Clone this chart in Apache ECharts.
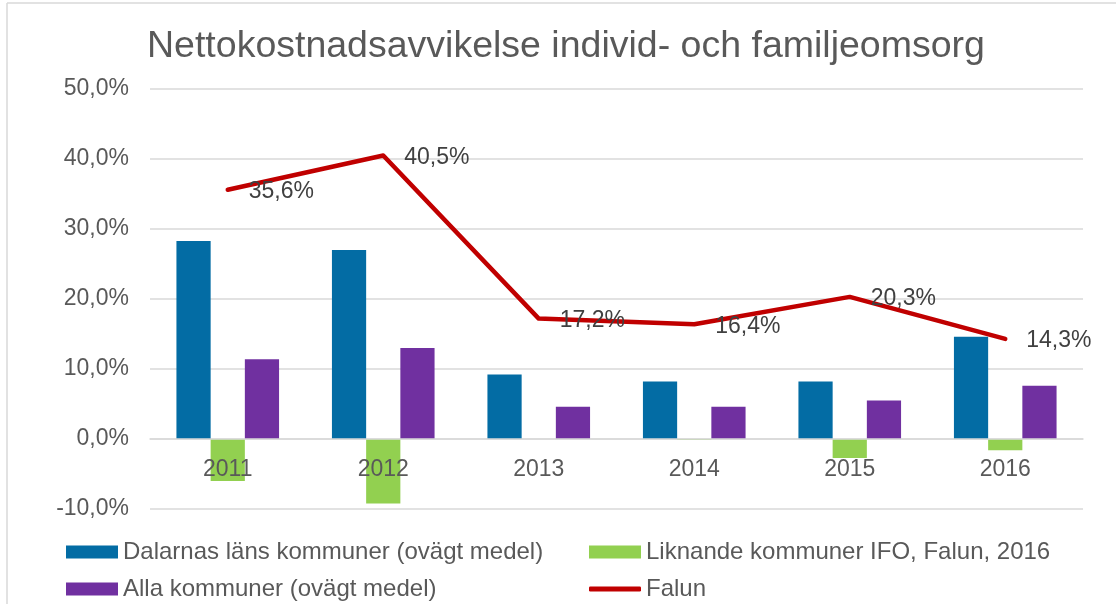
<!DOCTYPE html>
<html>
<head>
<meta charset="utf-8">
<script src="https://cdn.jsdelivr.net/npm/echarts@6/dist/echarts.min.js"></script>
<style>
  html, body { margin: 0; padding: 0; background: #fff; }
  #chart { width: 1116px; height: 604px; }
</style>
</head>
<body>
<div id="chart"></div>
<script>
// data (percent)
var years = ['2011', '2012', '2013', '2014', '2015', '2016'];
var dalarnas = [28.3, 27.0, 9.2, 8.2, 8.2, 14.6];
var liknande = [-6.0, -9.2, 0, -0.1, -2.7, -1.6];
var alla = [11.4, 13.0, 4.6, 4.6, 5.5, 7.6];
var falun = [35.6, 40.5, 17.2, 16.4, 20.3, 14.3];

var seriesNames = [
    'Dalarnas läns kommuner (ovägt medel)',
    'Liknande kommuner IFO, Falun, 2016',
    'Alla kommuner (ovägt medel)',
    'Falun'
];

var font = 'Liberation Sans, Arial, sans-serif';
var pct = function (v) {
    return Number(v).toFixed(1).replace('.', ',') + '%';
};

// one legend per item so the 2x2 layout is kept
function legendItem(name, left, top, extra) {
    var l = {
        left: left,
        top: top,
        padding: 0,
        itemWidth: 52,
        itemHeight: 13,
        icon: 'rect',
        data: [name],
        textStyle: { fontSize: 24, lineHeight: 24, color: '#595959', fontFamily: font }
    };
    for (var k in extra) l[k] = extra[k];
    return l;
}

var chart = echarts.init(document.getElementById('chart'));

var option = {
    animation: false,
    textStyle: { fontFamily: font },
    title: {
        text: 'Nettokostnadsavvikelse individ- och familjeomsorg',
        left: 142,
        top: 23,
        textStyle: { fontSize: 37.5, fontWeight: 'normal', color: '#595959', fontFamily: font }
    },
    grid: { left: 150, right: 33, top: 89, bottom: 95 },
    legend: [
        legendItem(seriesNames[0], 66, 540),
        legendItem(seriesNames[2], 66, 577),
        legendItem(seriesNames[1], 589, 540),
        legendItem(seriesNames[3], 589, 577, { icon: 'roundRect', itemHeight: 5 })
    ],
    xAxis: {
        type: 'category',
        data: years,
        offset: -70,
        z: 10,
        axisLine: { onZero: false, lineStyle: { color: '#d9d9d9', width: 1.5 } },
        axisTick: { show: false },
        axisLabel: { fontSize: 23, color: '#595959', margin: 19, fontFamily: font }
    },
    yAxis: {
        type: 'value',
        min: -10,
        max: 50,
        interval: 10,
        axisLine: { show: false },
        axisTick: { show: false },
        splitLine: { lineStyle: { color: '#d9d9d9', width: 1.5 } },
        axisLabel: { fontSize: 23, color: '#595959', margin: 21, formatter: pct, fontFamily: font }
    },
    series: [
        {
            name: seriesNames[0],
            type: 'bar',
            data: dalarnas,
            barGap: '0%',
            barCategoryGap: '34%',
            itemStyle: { color: '#036ca4' }
        },
        {
            name: seriesNames[1],
            type: 'bar',
            data: liknande,
            itemStyle: { color: '#92d050' }
        },
        {
            name: seriesNames[2],
            type: 'bar',
            data: alla,
            itemStyle: { color: '#7030a0' }
        },
        {
            name: seriesNames[3],
            type: 'line',
            data: falun,
            symbol: 'circle',
            symbolSize: 0,
            z: 5,
            lineStyle: { color: '#c00000', width: 4.5, cap: 'round', join: 'round' },
            itemStyle: { color: '#c00000' },
            label: {
                show: true,
                position: 'right',
                distance: 21,
                offset: [0, 2],
                fontSize: 23,
                color: '#404040',
                fontFamily: font,
                formatter: function (p) { return pct(p.value); }
            }
        }
    ],
    graphic: [
        { type: 'line', shape: { x1: 7, y1: 3, x2: 1116, y2: 3 }, style: { stroke: '#d9d9d9', lineWidth: 1.5 } },
        { type: 'line', shape: { x1: 7, y1: 3, x2: 7, y2: 604 }, style: { stroke: '#d9d9d9', lineWidth: 1.5 } }
    ]
};

chart.setOption(option);
</script>
</body>
</html>
